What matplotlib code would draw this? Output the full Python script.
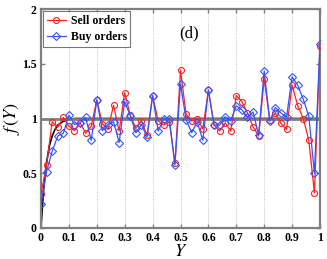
import numpy as np
import matplotlib
matplotlib.use("Agg")
import matplotlib.pyplot as plt

# Y bins (0, 0.02, ..., 1)
y_pos = np.linspace(0, 1, 51)

sell = [0.31, 0.575, 0.97, 0.92, 1.01, 0.93, 0.89, 0.96, 0.865, 0.93,
        1.17, 0.95, 0.90, 1.12, 0.885, 1.235, 1.03, 0.91, 0.98, 0.845,
        1.205, 0.98, 0.94, 0.97, 0.59, 1.44, 1.04, 0.977, 1.0, 0.905,
        1.26, 0.94, 0.886, 0.96, 0.886, 1.21, 1.155, 1.05, 0.925, 0.84,
        1.36, 0.985, 1.05, 0.956, 0.90, 1.305, 1.117, 1.0, 0.80, 0.32,
        1.665]
buy = [0.22, 0.515, 0.70, 0.84, 0.865, 1.03, 0.945, 0.96, 1.01, 0.80,
       1.17, 0.89, 0.945, 0.97, 0.78, 1.155, 1.025, 0.87, 0.945, 0.83,
       1.21, 0.885, 1.0, 1.0, 0.575, 1.315, 0.99, 0.87, 0.97, 0.80,
       1.26, 0.94, 0.94, 1.016, 0.98, 1.115, 1.08, 1.01, 1.06, 0.85,
       1.435, 0.976, 1.10, 1.05, 1.01, 1.38, 1.305, 1.175, 1.02, 0.50,
       1.68]

# theoretical curve
curve_x = [0, 0.005, 0.01, 0.015, 0.02, 0.03, 0.04, 0.05, 0.06, 0.08, 0.1, 0.12, 1.0]
curve_y = [0, 0.20, 0.37, 0.50, 0.60, 0.75, 0.84, 0.90, 0.94, 0.975, 0.99, 1.0, 1.0]

xticks = [0, 0.1, 0.2, 0.3, 0.4, 0.5, 0.6, 0.7, 0.8, 0.9, 1]
xticklabels = ["0", "0.1", "0.2", "0.3", "0.4", "0.5", "0.6", "0.7", "0.8", "0.9", "1"]
yticks = [0, 0.5, 1, 1.5, 2]
yticklabels = ["0", "0.5", "1", "1.5", "2"]

plt.rcParams['font.family'] = ['Liberation Serif', 'DejaVu Serif']
plt.rcParams['mathtext.fontset'] = 'stix'

fig = plt.figure(figsize=(3.27, 2.59), dpi=100)
ax = fig.add_axes([41/327, 1 - 228/259, 279/327, 219/259])

for xt in xticks[1:-1]:
    ax.axvline(xt, color='#b0b0b0', lw=0.6, ls=':', zorder=0)

# smooth the read-off curve a bit for drawing
xs = np.linspace(0, 1, 400)
ax.plot(xs, np.interp(xs, curve_x, curve_y), color='black', lw=1.2, zorder=2)
ax.axhline(1, color='#7f7f7f', lw=2.0, zorder=2.5)

ax.plot(y_pos, sell, color='#ff2020', marker='o', ms=4.3, mfc='none',
        mew=0.8, lw=0.9, label='Sell orders', zorder=3)
ax.plot(y_pos, buy, color='#3355ff', marker='D', ms=3.8, mfc='none',
        mew=0.8, lw=0.9, label='Buy orders', zorder=4)

ax.set_xlim(0, 1)
ax.set_ylim(0, 2)
ax.set_xticks(xticks)
ax.set_xticklabels(xticklabels, fontweight='bold', fontsize=8.5)
ax.set_yticks(yticks)
ax.set_yticklabels(yticklabels, fontweight='bold', fontsize=8.5)
ax.tick_params(direction='in', top=True, right=True, length=3,
               width=1.0, color='#7f7f7f', pad=3)
for sp in ax.spines.values():
    sp.set_color('#7f7f7f')
    sp.set_linewidth(1.6)

ax.set_xlabel(r'$Y$', fontsize=13, labelpad=-1)
ax.set_ylabel(r'$f\,(Y)$', fontsize=13, labelpad=0)

ax.text(0.53, 1.78, '(d)', fontsize=12, ha='center', va='center')

leg = ax.legend(loc='upper left', prop={'weight': 'bold', 'size': 8.5},
                frameon=True, fancybox=False, borderpad=0.3,
                handlelength=1.6, handletextpad=0.4, labelspacing=0.35,
                borderaxespad=0.2)
leg.get_frame().set_edgecolor('#555555')
leg.get_frame().set_linewidth(0.8)

fig.savefig('out.png', dpi=100)
